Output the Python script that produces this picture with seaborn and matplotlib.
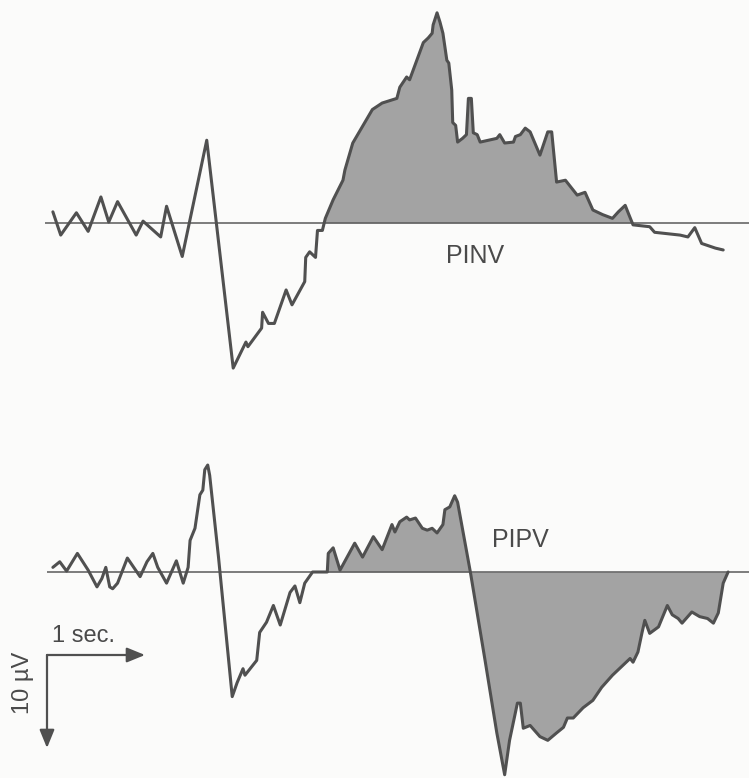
'''
Recreation of the PINV / PIPV slow-potential traces (negative up)
'''

import numpy as np
import matplotlib
matplotlib.use('Agg')
import matplotlib.pyplot as plt
from matplotlib import font_manager
import seaborn as sns

# time in seconds, amplitude in microvolts (negative plotted upward)
pinv_t = [0.06, 0.14, 0.30, 0.42, 0.55, 0.63, 0.72, 0.91, 0.98, 1.16,
          1.22, 1.38, 1.63, 1.90, 2.03, 2.05, 2.19, 2.20, 2.26, 2.32,
          2.44, 2.50, 2.63, 2.64, 2.68, 2.74, 2.76, 2.81, 2.84, 2.92,
          3.02, 3.04, 3.12, 3.32, 3.42, 3.57, 3.60, 3.67, 3.70, 3.84,
          3.89, 3.93, 3.94, 3.98, 4.01, 4.04, 4.08, 4.10, 4.13, 4.14,
          4.17, 4.19, 4.24, 4.28, 4.30, 4.33, 4.35, 4.39, 4.42, 4.59,
          4.62, 4.67, 4.76, 4.78, 4.83, 4.88, 4.93, 5.03, 5.11, 5.15,
          5.20, 5.29, 5.41, 5.49, 5.57, 5.67, 5.77, 5.83, 5.90, 5.93,
          5.98, 6.15, 6.20, 6.46, 6.54, 6.61, 6.68, 6.82, 6.90]
pinv_uv = [-1.2, 1.3, -1.1, 0.9, -2.8, -0.1, -2.3, 1.3, -0.2, 1.5,
           -1.8, 3.6, -8.9, 15.6, 12.8, 13.3, 11.3, 9.6, 10.8, 10.8,
           7.2, 8.8, 6.3, 3.7, 3.1, 3.7, 0.8, 0.8, -0.5, -2.5,
           -4.6, -5.7, -8.6, -12.2, -12.9, -13.4, -14.6, -15.7, -15.4, -19.4,
           -19.9, -20.4, -21.3, -22.6, -21.6, -20.4, -17.5, -17.2, -14.3, -10.8,
           -10.5, -8.7, -9.1, -9.5, -13.4, -13.4, -9.7, -9.5, -8.7, -9.1,
           -9.5, -8.6, -8.7, -9.3, -9.5, -10.2, -9.8, -7.3, -9.8, -9.8,
           -4.4, -4.6, -3.0, -3.3, -1.4, -0.9, -0.5, -1.2, -1.9, -1.1,
           0.2, 0.4, 1.0, 1.3, 1.5, 0.5, 2.2, 2.7, 2.9]

pipv_t = [0.06, 0.13, 0.20, 0.31, 0.42, 0.51, 0.56, 0.60, 0.64, 0.67,
          0.72, 0.82, 0.95, 1.02, 1.08, 1.13, 1.22, 1.32, 1.39, 1.44,
          1.46, 1.51, 1.56, 1.59, 1.61, 1.64, 1.66, 1.75, 1.89, 1.94,
          2.00, 2.02, 2.14, 2.17, 2.24, 2.31, 2.38, 2.48, 2.53, 2.58,
          2.63, 2.71, 2.86, 2.87, 2.92, 2.99, 3.14, 3.22, 3.33, 3.42,
          3.52, 3.55, 3.60, 3.67, 3.70, 3.76, 3.83, 3.88, 3.93, 3.98,
          4.04, 4.06, 4.11, 4.16, 4.19, 4.32, 4.47, 4.59, 4.67, 4.72,
          4.80, 4.83, 4.86, 4.93, 5.03, 5.11, 5.20, 5.27, 5.31, 5.37,
          5.47, 5.57, 5.66, 5.77, 5.85, 5.95, 5.98, 6.03, 6.07, 6.10,
          6.15, 6.24, 6.33, 6.38, 6.44, 6.48, 6.58, 6.66, 6.74, 6.80,
          6.85, 6.90, 6.95]
pipv_uv = [-0.5, -1.1, -0.1, -2.0, -0.2, 1.6, 0.7, -0.5, 1.6, 1.8,
           1.2, -1.5, 0.5, -1.1, -2.0, -0.5, 1.2, -1.2, 1.2, -0.5,
           -3.4, -4.7, -8.3, -8.8, -11.0, -11.5, -10.4, -1.6, 13.4, 11.9,
           10.4, 11.1, 9.5, 6.5, 5.4, 3.6, 5.7, 2.2, 1.5, 3.3,
           1.2, 0.0, 0.0, -2.0, -2.6, -0.2, -3.1, -1.6, -3.8, -2.4,
           -5.1, -4.3, -5.4, -5.9, -5.6, -5.8, -4.7, -4.5, -4.7, -4.2,
           -5.1, -6.7, -7.0, -8.2, -7.5, 0.0, 9.5, 17.3, 21.8, 18.1,
           14.1, 14.1, 16.8, 16.5, 17.7, 18.1, 17.3, 16.7, 15.7, 15.7,
           14.6, 13.8, 12.4, 11.1, 10.3, 9.3, 9.7, 8.6, 6.6, 5.2,
           6.6, 5.9, 3.6, 4.6, 5.0, 5.5, 4.3, 4.8, 5.0, 5.5,
           4.4, 1.2, 0.0]

trace_color = '#505050'
fill_color = '#a3a3a3'
text_color = '#4a4a4a'
bg_color = '#fbfbfa'

sns.set_style('white')
installed = {f.name for f in font_manager.fontManager.ttflist}
if 'Liberation Sans Narrow' in installed:
    plt.rcParams['font.family'] = ['Liberation Sans Narrow', 'DejaVu Sans']
    label_size = 20
else:
    plt.rcParams['font.family'] = ['Liberation Sans', 'DejaVu Sans']
    label_size = 18

fig = plt.figure(figsize=(7.49, 7.78), dpi=100, facecolor=bg_color)

# 1 s = 98 px, 10 uV = 93 px, trace start at x = 47 px
xlim = (-47 / 98, (749 - 47) / 98)
ax_top = fig.add_axes([0, 389 / 778, 1, 389 / 778])
ax_bot = fig.add_axes([0, 0, 1, 389 / 778])
ax_top.set_ylim((389 - 223) / 9.3, -223 / 9.3)
ax_bot.set_ylim((778 - 572) / 9.3, (389 - 572) / 9.3)

for ax in (ax_top, ax_bot):
    ax.set_xlim(*xlim)
    ax.set_facecolor(bg_color)
    ax.axis('off')

# top panel: PINV
t1 = np.array(pinv_t)
v1 = np.array(pinv_uv)
ax_top.hlines(0, -0.02, xlim[1], color='#5a5a5a', lw=1.1)
ax_top.fill_between(t1, v1, 0, where=(t1 >= 2.8) & (v1 <= 0),
                    interpolate=True, color=fill_color, lw=0)
sns.lineplot(x=t1, y=v1, ax=ax_top, color=trace_color, lw=2.2,
             estimator=None, sort=False)
ax_top.text(4.37, 3.6, 'PINV', color=text_color, fontsize=label_size,
            ha='center', va='center')

# bottom panel: PIPV
t2 = np.array(pipv_t)
v2 = np.array(pipv_uv)
ax_bot.hlines(0, 0, xlim[1], color='#5a5a5a', lw=1.1)
ax_bot.fill_between(t2, v2, 0, where=(t2 >= 2.85),
                    interpolate=True, color=fill_color, lw=0)
sns.lineplot(x=t2, y=v2, ax=ax_bot, color=trace_color, lw=2.2,
             estimator=None, sort=False)
ax_bot.text(4.83, -3.4, 'PIPV', color=text_color, fontsize=label_size,
            ha='center', va='center')

# calibration bars
bar_v = (655 - 572) / 9.3
arrow = dict(arrowstyle='-|>,head_length=1.1,head_width=0.45',
             color=trace_color, lw=1.6, shrinkA=0, shrinkB=0)
ax_bot.annotate('', xy=(1.0, bar_v), xytext=(0, bar_v), arrowprops=arrow)
ax_bot.annotate('', xy=(0, bar_v + 10), xytext=(0, bar_v), arrowprops=arrow)
ax_bot.text(0.05, bar_v - 0.9, '1 sec.', color=text_color, fontsize=label_size - 1,
            ha='left', va='bottom')
ax_bot.text(-0.245, bar_v + 3.0, '10 µV', color=text_color, fontsize=label_size - 1,
            ha='center', va='center', rotation=90)

fig.savefig('out.png', dpi=100, facecolor=bg_color)
plt.close(fig)
